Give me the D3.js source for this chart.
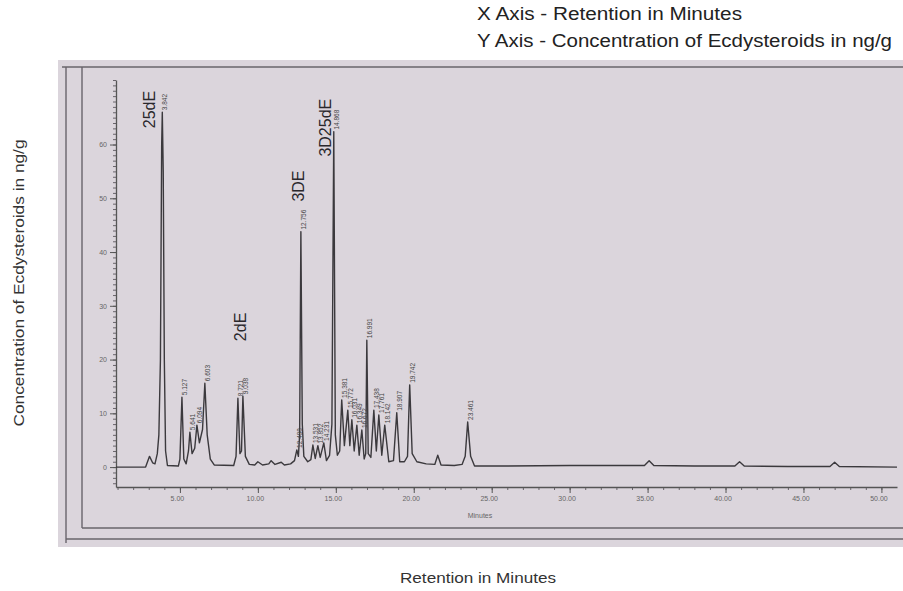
<html>
<head>
<meta charset="utf-8">
<title>Ecdysteroid chromatogram</title>
<style>
  body { margin: 0; background: #fff; }
  svg text { font-family: "Liberation Sans", Arial, sans-serif; }
</style>
</head>
<body>
<script src="https://cdn.jsdelivr.net/npm/d3@7/dist/d3.min.js"></script>
<script>
// retention (min) and detector signal
var traceTime = [0.9, 2.8, 3.05, 3.25, 3.4, 3.55, 3.65, 3.75, 3.83, 3.87, 3.93, 4.0, 4.08, 4.2,
  4.9, 5.0, 5.13, 5.25, 5.4, 5.55, 5.64, 5.78, 5.95, 6.09, 6.25, 6.45, 6.6, 6.75, 6.95, 7.2,
  8.45, 8.6, 8.72, 8.85, 8.95, 9.04, 9.2, 9.45, 9.8, 10.0, 10.3, 10.7, 10.85, 11.1, 11.5, 11.7, 12.1,
  12.35, 12.5, 12.6, 12.68, 12.76, 12.85, 12.95, 13.2, 13.4, 13.53, 13.68, 13.85, 14.0, 14.23, 14.4,
  14.6, 14.75, 14.87, 14.97, 15.1, 15.25, 15.38, 15.55, 15.77, 15.9, 16.03, 16.18, 16.35, 16.5, 16.67,
  16.82, 16.92, 16.99, 17.08, 17.25, 17.44, 17.6, 17.76, 17.95, 18.14, 18.4, 18.7, 18.91, 19.1, 19.4,
  19.6, 19.74, 19.9, 20.2, 20.8, 21.35, 21.54, 21.75, 22.6, 23.1, 23.3, 23.46, 23.65, 23.9, 26.0,
  30.0, 34.8, 35.1, 35.4, 38.0, 40.6, 40.9, 41.2, 44.0, 46.7, 47.0, 47.3, 51.0];
var traceSignal = [0, 0, 2.0, 0.8, 0.6, 2.5, 6, 20, 60, 66, 55, 20, 3, 0.3,
  0.2, 1.5, 13.0, 1.5, 0.6, 3.0, 6.5, 2.5, 3.5, 7.8, 4.5, 7.0, 15.6, 6.0, 1.5, 0.4,
  0.3, 2.0, 12.8, 2.5, 3.0, 13.2, 2.0, 0.5, 0.4, 1.0, 0.4, 0.6, 1.2, 0.5, 0.9, 0.4, 0.6,
  1.2, 3.2, 2.0, 6.0, 43.8, 8.0, 2.0, 1.0, 1.4, 4.1, 1.6, 4.0, 1.8, 4.5, 1.2,
  2.2, 8.0, 62.4, 6.0, 2.2, 3.0, 12.5, 4.0, 10.6, 4.0, 8.8, 3.0, 7.8, 2.2, 6.9,
  1.5, 2.5, 23.6, 2.5, 1.8, 10.6, 3.0, 9.7, 2.2, 7.8, 1.0, 1.2, 10.1, 1.0, 1.0,
  2.0, 15.3, 2.5, 1.0, 0.6, 0.5, 2.2, 0.4, 0.3, 0.5, 2.0, 8.4, 2.0, 0.2, 0.2,
  0.3, 0.3, 1.2, 0.3, 0.2, 0.2, 1.0, 0.2, 0.1, 0.1, 0.9, 0.1, 0];

// printed retention time labels above the peaks
var peakTimes = [3.842, 5.127, 5.641, 6.094, 6.603, 8.721, 9.038, 12.498, 12.756, 13.531, 13.852,
  14.231, 14.868, 15.381, 15.772, 16.031, 16.349, 16.672, 16.991, 17.438, 17.761, 18.142, 18.907,
  19.742, 23.461];
var peakHeights = [66, 13.0, 6.5, 7.8, 15.6, 12.8, 13.2, 3.2, 43.8, 4.1, 4.0,
  4.5, 62.4, 12.5, 10.6, 8.8, 7.8, 6.9, 23.6, 10.6, 9.7, 7.8, 10.1,
  15.3, 8.4];

// compound names
var compoundNames = ["25dE", "2dE", "3DE", "3D25dE"];
var compoundTimes = [3.842, 8.88, 12.756, 14.868];
var compoundHeights = [66, 13.2, 43.8, 62.4];

var xTicks = [5, 10, 15, 20, 25, 30, 35, 40, 45, 50];
var yTicks = [0, 10, 20, 30, 40, 50, 60];

var width = 903, height = 591;
var svg = d3.select("body").append("svg")
    .attr("width", width)
    .attr("height", height);

// scanned paper
svg.append("rect").attr("x", 58).attr("y", 60).attr("width", 845).attr("height", 487)
    .attr("fill", "#dbd5dc");

var frame = svg.append("g").attr("stroke", "#69646b").attr("fill", "none");
frame.append("line").attr("x1", 62).attr("x2", 903).attr("y1", 67).attr("y2", 67).attr("stroke-width", 1.6);
frame.append("line").attr("x1", 66).attr("x2", 66).attr("y1", 67).attr("y2", 543).attr("stroke-width", 1.4);
frame.append("line").attr("x1", 82).attr("x2", 82).attr("y1", 67).attr("y2", 528).attr("stroke-width", 1.4);
frame.append("line").attr("x1", 82).attr("x2", 903).attr("y1", 528).attr("y2", 528).attr("stroke-width", 1.6);
frame.append("line").attr("x1", 66).attr("x2", 903).attr("y1", 539).attr("y2", 539).attr("stroke-width", 1.4);

var x = d3.scaleLinear().domain([0.9, 51]).range([116, 897]);
var y = d3.scaleLinear().domain([-3.7, 72]).range([487, 80]);

// y axis: minor then major
svg.append("g").attr("transform", "translate(116,0)")
    .call(d3.axisLeft(y).tickValues(d3.range(-3, 73, 1)).tickSize(3).tickFormat(""))
    .call(function(g) { g.select(".domain").remove(); })
    .selectAll("line").attr("stroke", "#69646b");
svg.append("g").attr("transform", "translate(116,0)")
    .call(d3.axisLeft(y).tickValues(yTicks).tickSize(6).tickSizeOuter(0).tickFormat(d3.format("d")))
    .call(function(g) {
        g.select(".domain").attr("stroke", "#555").attr("stroke-width", 1.3);
        g.selectAll("line").attr("stroke", "#555");
        g.selectAll("text").attr("fill", "#666").attr("font-size", 7);
    });

// x axis
svg.append("g").attr("transform", "translate(0,487)")
    .call(d3.axisBottom(x).tickValues(d3.range(1, 51, 1)).tickSize(3).tickFormat(""))
    .call(function(g) { g.select(".domain").remove(); })
    .selectAll("line").attr("stroke", "#69646b");
svg.append("g").attr("transform", "translate(0,487)")
    .call(d3.axisBottom(x).tickValues(xTicks).tickSize(6).tickSizeOuter(0).tickFormat(d3.format(".2f")))
    .call(function(g) {
        g.select(".domain").attr("stroke", "#555").attr("stroke-width", 1.3);
        g.selectAll("line").attr("stroke", "#555");
        g.selectAll("text").attr("fill", "#666").attr("font-size", 7).attr("dx", -3);
    });

svg.append("text").attr("x", 480).attr("y", 518).attr("text-anchor", "middle")
    .attr("font-size", 7).attr("fill", "#666").text("Minutes");

// detector trace
var line = d3.line()
    .x(function(d, i) { return x(traceTime[i]); })
    .y(function(d) { return y(d); });
svg.append("path")
    .datum(traceSignal)
    .attr("d", line)
    .attr("fill", "none")
    .attr("stroke", "#3b393d")
    .attr("stroke-width", 1.4)
    .attr("stroke-linejoin", "round");

// small retention labels
svg.append("g").selectAll("text")
    .data(peakTimes)
    .enter()
    .append("text")
    .attr("transform", function(d, i) {
        return "translate(" + (x(d) + 3) + "," + (y(peakHeights[i]) - 2) + ") rotate(-90)";
    })
    .attr("dy", "0.35em")
    .attr("font-size", 6.5)
    .attr("fill", "#444")
    .text(function(d) { return d3.format(".3f")(d); });

// compound names
var nameOffset = [[-12, 16], [0, -55], [-2, -30], [-8, 25]];
svg.append("g").selectAll("text")
    .data(compoundNames)
    .enter()
    .append("text")
    .attr("transform", function(d, i) {
        return "translate(" + (x(compoundTimes[i]) + nameOffset[i][0]) + "," +
            (y(compoundHeights[i]) + nameOffset[i][1]) + ") rotate(-90)";
    })
    .attr("dy", "0.35em")
    .attr("font-size", 16)
    .attr("fill", "#2a282c")
    .text(function(d) { return d; });

// titles
svg.append("text").attr("x", 477).attr("y", 20).attr("font-size", 18)
    .attr("textLength", 265).attr("lengthAdjust", "spacingAndGlyphs")
    .attr("fill", "#222").text("X Axis - Retention in Minutes");
svg.append("text").attr("x", 477).attr("y", 47).attr("font-size", 18)
    .attr("textLength", 415).attr("lengthAdjust", "spacingAndGlyphs")
    .attr("fill", "#222").text("Y Axis - Concentration of Ecdysteroids in ng/g");
svg.append("text").attr("x", 478).attr("y", 583).attr("text-anchor", "middle").attr("font-size", 14)
    .attr("textLength", 156).attr("lengthAdjust", "spacingAndGlyphs")
    .attr("fill", "#333").text("Retention in Minutes");
svg.append("text").attr("transform", "translate(19,283) rotate(-90)")
    .attr("text-anchor", "middle").attr("dy", "0.35em").attr("font-size", 14)
    .attr("textLength", 287).attr("lengthAdjust", "spacingAndGlyphs")
    .attr("fill", "#333").text("Concentration of Ecdysteroids in ng/g");
</script>
</body>
</html>
